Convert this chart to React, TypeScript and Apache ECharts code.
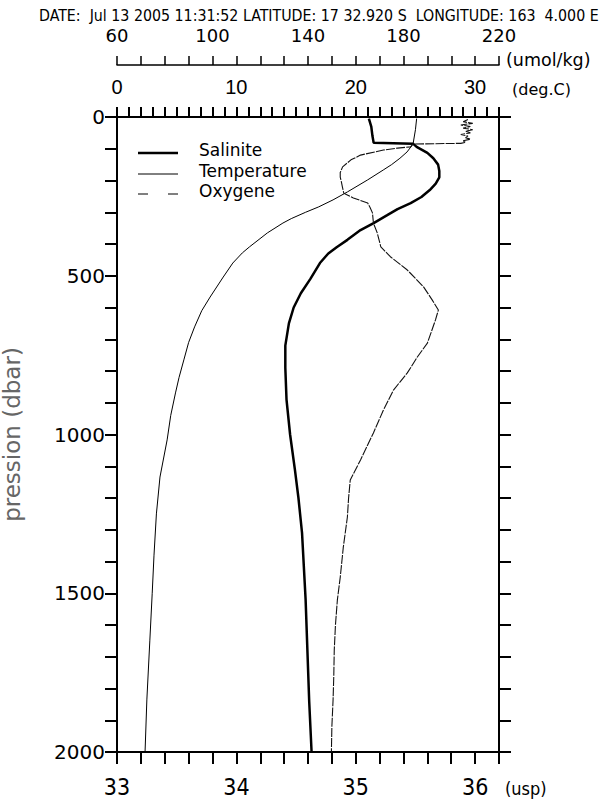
import React, { useEffect, useRef } from 'react';
import * as echarts from 'echarts';

const headerText = 'DATE:  Jul 13 2005 11:31:52 LATITUDE: 17 32.920 S  LONGITUDE: 163  4.000 E';
const legendNames = ['Salinite', 'Temperature', 'Oxygene'];
const unitNames = ['(usp)', '(deg.C)', '(umol/kg)'];

const salPressure = [5, 30, 60, 81, 84, 94, 113, 130, 150, 170, 190, 210, 230, 252, 271, 290, 310, 334, 356, 387, 410, 430, 460, 510, 555, 600, 650, 720, 790, 890, 1000, 1110, 1200, 1310, 1520, 1840, 2000];
const salinity = [35.11, 35.13, 35.14, 35.15, 35.48, 35.51, 35.60, 35.65, 35.69, 35.70, 35.70, 35.67, 35.62, 35.55, 35.46, 35.35, 35.26, 35.15, 35.04, 34.93, 34.84, 34.77, 34.70, 34.62, 34.54, 34.48, 34.44, 34.41, 34.41, 34.42, 34.45, 34.49, 34.52, 34.55, 34.58, 34.61, 34.63];

const tempPressure = [5, 40, 85, 110, 130, 150, 167, 198, 236, 261, 283, 300, 320, 334, 365, 409, 428, 460, 504, 567, 610, 661, 710, 765, 820, 869, 940, 1017, 1134, 1250, 1380, 1500, 1650, 1836, 2000];
const temperature = [25.1, 25.0, 24.8, 24.3, 23.7, 23.0, 22.3, 21.0, 19.3, 18.1, 16.9, 15.8, 14.6, 13.9, 12.6, 11.1, 10.5, 9.7, 8.9, 7.8, 7.1, 6.5, 6.0, 5.6, 5.2, 4.9, 4.5, 4.2, 3.6, 3.3, 3.1, 2.95, 2.75, 2.5, 2.35];

const oxyPressure = [8, 15, 20, 25, 30, 35, 40, 45, 50, 55, 60, 65, 70, 75, 80, 83, 85, 94, 98, 104, 120, 135, 157, 175, 189, 205, 220, 240, 255, 271, 285, 302, 334, 365, 409, 440, 482, 535, 576, 608, 639, 680, 712, 756, 806, 860, 923, 995, 1080, 1143, 1200, 1260, 1354, 1450, 1521, 1600, 1679, 1760, 1836, 1920, 2000];
const oxygen = [207, 205, 209, 204, 208, 205, 209, 206, 208, 204, 207, 206, 208, 205, 206, 204, 184, 183, 177.5, 171.6, 162, 158, 154.5, 153.5, 153.5, 154, 154.4, 155, 159, 165, 166, 167, 167.4, 169, 170.5, 174.5, 181.6, 188.4, 192, 194.6, 193.4, 191.5, 190, 185.8, 181.6, 175.8, 171.6, 167.4, 162, 157.7, 157, 156.5, 154.8, 153.5, 152.3, 151.5, 151, 150.8, 150.5, 150, 149.8];

const salTicks = { min: 33, max: 36.2, interval: 0.2 };
const tempTicks = { min: 0, max: 32, interval: 1 };
const oxyTicks = { min: 60, max: 220, interval: 10 };
const presTicks = { min: 0, max: 2000, interval: 100 };

const isMultiple = (v: number, base: number, step: number) => {
  const r = (v - base) / step;
  return Math.abs(r - Math.round(r)) < 1e-6;
};

export default function App() {
  const ref = useRef<HTMLDivElement>(null);
  useEffect(() => {
    const chart = echarts.init(ref.current!, null, { renderer: 'svg' });
    const zip = (ps: number[], vs: number[]) => ps.map((p, i) => [vs[i], p]);
    const black = '#000';
    const tickFont = 'DejaVu Sans';
    const narrow = 'Liberation Sans Narrow, DejaVu Sans Condensed, sans-serif';
    const cond = 'DejaVu Sans Condensed, sans-serif';
    chart.setOption({
      animation: false,
      backgroundColor: '#fff',
      grid: { left: 117, right: 114, top: 117, bottom: 50, containLabel: false, outerBoundsMode: 'none' },
      xAxis: [
        {
          type: 'value', position: 'bottom', ...salTicks,
          axisLine: { show: true, onZero: false, lineStyle: { color: black, width: 2 } },
          axisTick: { show: true, inside: false, length: 12, lineStyle: { color: black, width: 2 } },
          axisLabel: {
            margin: 23, color: black, fontSize: 23, fontFamily: narrow,
            formatter: (v: number) => (isMultiple(v, 33, 1) ? String(Math.round(v)) : ''),
          },
          splitLine: { show: false },
        },
        {
          type: 'value', position: 'top', ...tempTicks,
          axisLine: { show: true, onZero: false, lineStyle: { color: black, width: 2 } },
          axisTick: { show: true, inside: false, length: 10, lineStyle: { color: black, width: 2 } },
          axisLabel: {
            margin: 20, color: black, fontSize: 20, fontFamily: 'Liberation Sans, sans-serif',
            formatter: (v: number) => (isMultiple(v, 0, 10) ? String(Math.round(v)) : ''),
          },
          splitLine: { show: false },
        },
        {
          type: 'value', position: 'top', offset: 52, ...oxyTicks,
          axisLine: { show: true, onZero: false, lineStyle: { color: black, width: 1.5 } },
          axisTick: { show: true, inside: false, length: 9, lineStyle: { color: black, width: 1.5 } },
          axisLabel: {
            margin: 21, color: black, fontSize: 18, fontFamily: tickFont,
            formatter: (v: number) => (isMultiple(v, 60, 40) ? String(Math.round(v)) : ''),
          },
          splitLine: { show: false },
        },
      ],
      yAxis: [
        {
          type: 'value', position: 'left', inverse: true, ...presTicks,
          axisLine: { show: true, onZero: false, lineStyle: { color: black, width: 2 } },
          axisTick: { show: true, inside: false, length: 12, lineStyle: { color: black, width: 2 } },
          axisLabel: {
            margin: 12, color: black, fontSize: 20, fontFamily: tickFont,
            formatter: (v: number) => (isMultiple(v, 0, 500) ? String(Math.round(v)) : ''),
          },
          splitLine: { show: false },
          name: 'pression (dbar)', nameLocation: 'middle', nameGap: 94, nameRotate: 90,
          nameTextStyle: { color: '#666', fontSize: 23, fontFamily: tickFont },
        },
        {
          type: 'value', position: 'right', inverse: true, ...presTicks,
          axisLine: { show: true, onZero: false, lineStyle: { color: black, width: 2 } },
          axisTick: { show: true, inside: false, length: 12, lineStyle: { color: black, width: 2 } },
          axisLabel: { show: false },
          splitLine: { show: false },
        },
      ],
      series: [
        {
          name: legendNames[0], type: 'line', xAxisIndex: 0, yAxisIndex: 0,
          data: zip(salPressure, salinity), showSymbol: false, symbol: 'none',
          lineStyle: { color: black, width: 2.5 }, silent: true,
        },
        {
          name: legendNames[1], type: 'line', xAxisIndex: 1, yAxisIndex: 0,
          data: zip(tempPressure, temperature), showSymbol: false, symbol: 'none',
          lineStyle: { color: black, width: 1 }, silent: true,
        },
        {
          name: legendNames[2], type: 'line', xAxisIndex: 2, yAxisIndex: 0,
          data: zip(oxyPressure, oxygen), showSymbol: false, symbol: 'none',
          lineStyle: { color: '#111', width: 1.1, type: [9, 1.2] }, silent: true,
        },
      ],
      graphic: [
        {
          type: 'text', x: 39, y: 15,
          style: { text: headerText, fill: black, fontSize: 15.8, fontFamily: cond, verticalAlign: 'middle' },
        },
        { type: 'text', x: 505, y: 788, style: { text: unitNames[0], fill: black, fontSize: 18, fontFamily: narrow, verticalAlign: 'middle' } },
        { type: 'text', x: 512, y: 89, style: { text: unitNames[1], fill: black, fontSize: 16, fontFamily: tickFont, verticalAlign: 'middle' } },
        { type: 'text', x: 506, y: 60, style: { text: unitNames[2], fill: black, fontSize: 17.5, fontFamily: tickFont, verticalAlign: 'middle' } },
        { type: 'line', shape: { x1: 138, y1: 153, x2: 178, y2: 153 }, style: { stroke: black, lineWidth: 2.5 } },
        { type: 'line', shape: { x1: 138, y1: 174, x2: 178, y2: 174 }, style: { stroke: black, lineWidth: 1 } },
        { type: 'line', shape: { x1: 138, y1: 194, x2: 178, y2: 194 }, style: { stroke: black, lineWidth: 1, lineDash: [10, 20] } },
        { type: 'text', x: 199, y: 150, style: { text: legendNames[0], fill: black, fontSize: 17, fontFamily: tickFont, verticalAlign: 'middle' } },
        { type: 'text', x: 199, y: 171, style: { text: legendNames[1], fill: black, fontSize: 17, fontFamily: tickFont, verticalAlign: 'middle' } },
        { type: 'text', x: 199, y: 191, style: { text: legendNames[2], fill: black, fontSize: 17, fontFamily: tickFont, verticalAlign: 'middle' } },
      ],
    });
    return () => chart.dispose();
  }, []);
  return (
    <div
      ref={ref}
      style={{ position: 'fixed', left: 0, top: 0, width: 613, height: 802, background: '#fff' }}
    />
  );
}
